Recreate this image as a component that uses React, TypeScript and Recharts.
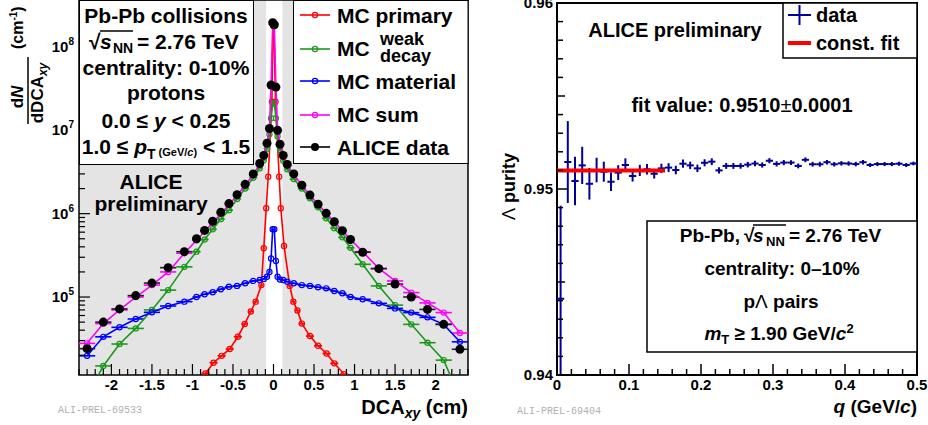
import React from "react";
import {
  ComposedChart,
  Scatter,
  XAxis,
  YAxis,
  ErrorBar,
  ReferenceArea,
  ReferenceLine,
} from "recharts";

const FONT = '"Liberation Sans", Arial, Helvetica, sans-serif';
const MONO = '"Liberation Mono", "DejaVu Sans Mono", monospace';

// ---------- left panel: proton DCA_xy templates ----------
const dcaBins = [
  -2.3, -2.1, -1.9, -1.7, -1.5, -1.3, -1.1, -0.95, -0.85, -0.75, -0.65, -0.55, -0.45, -0.35, -0.25, -0.17, -0.12,
  -0.08, -0.05, -0.03, -0.01, 0.01, 0.03, 0.05, 0.08, 0.12, 0.17, 0.25, 0.35, 0.45, 0.55, 0.65, 0.75, 0.85, 0.95,
  1.1, 1.3, 1.5, 1.7, 1.9, 2.1, 2.3,
];
const dcaHalfWidths = [
  0.1, 0.1, 0.1, 0.1, 0.1, 0.1, 0.1, 0.05, 0.05, 0.05, 0.05, 0.05, 0.05, 0.05, 0.05, 0.03, 0.02, 0.02, 0.015, 0.01,
  0.01, 0.01, 0.01, 0.015, 0.02, 0.02, 0.03, 0.05, 0.05, 0.05, 0.05, 0.05, 0.05, 0.05, 0.05, 0.1, 0.1, 0.1, 0.1,
  0.1, 0.1, 0.1,
];
const aliceData = [
  2.4e4, 5.0e4, 7.2e4, 1.04e5, 1.47e5, 2.25e5, 3.5e5, 5.0e5, 6.3e5, 8.1e5, 1.04e6, 1.32e6, 1.69e6, 2.25e6, 3.0e6,
  4.0e6, 5.0e6, 7.0e6, 1.05e7, 3.5e7, 1.95e8, 1.85e8, 3.3e7, 1.0e7, 6.8e6, 5.0e6, 3.9e6, 3.0e6, 2.2e6, 1.67e6,
  1.3e6, 1.01e6, 8.0e5, 6.25e5, 4.9e5, 3.44e5, 2.19e5, 1.43e5, 1.0e5, 7.1e4, 4.7e4, 2.36e4,
];
const mcSum = [
  2.78e4, 4.8e4, 7.0e4, 1.0e5, 1.39e5, 2.0e5, 3.35e5, 4.8e5, 6.1e5, 7.8e5, 1.0e6, 1.28e6, 1.65e6, 2.2e6, 2.95e6,
  3.9e6, 5.0e6, 7.0e6, 1.05e7, 3.5e7, 1.9e8, 1.85e8, 3.3e7, 1.0e7, 6.8e6, 4.9e6, 3.85e6, 2.95e6, 2.2e6, 1.66e6,
  1.3e6, 1.01e6, 8.0e5, 6.3e5, 4.9e5, 3.5e5, 2.2e5, 1.56e5, 1.13e5, 8.5e4, 6.5e4, 3.7e4,
];
const mcWeakDecay = [
  6.5e3, 1.49e4, 2.73e4, 4.2e4, 7.0e4, 1.21e5, 2.3e5, 3.5e5, 4.9e5, 6.5e5, 8.6e5, 1.1e6, 1.5e6, 2.0e6, 2.7e6,
  3.5e6, 4.4e6, 6.0e6, 9.0e6, 1.4e7, 2.1e7, 2.1e7, 1.4e7, 8.5e6, 5.8e6, 4.3e6, 3.4e6, 2.6e6, 2.0e6, 1.53e6,
  1.19e6, 8.8e5, 6.7e5, 5.2e5, 3.9e5, 2.47e5, 1.36e5, 8.0e4, 4.7e4, 2.83e4, 1.75e4, 6.2e3,
];
const mcMaterial = [
  1.97e4, 3.33e4, 4.33e4, 5.45e4, 6.55e4, 7.8e4, 8.8e4, 1.0e5, 1.08e5, 1.14e5, 1.24e5, 1.33e5, 1.36e5, 1.46e5,
  1.56e5, 1.6e5, 1.65e5, 1.75e5, 2.0e5, 2.9e5, 6.5e5, 6.5e5, 2.7e5, 1.75e5, 1.62e5, 1.6e5, 1.53e5, 1.46e5, 1.39e5,
  1.36e5, 1.31e5, 1.27e5, 1.18e5, 1.11e5, 1.0e5, 9.4e4, 8.4e4, 7.3e4, 6.5e4, 5.7e4, 4.7e4, 2.9e4,
];
const primaryBins = [
  -0.95, -0.84, -0.74, -0.64, -0.54, -0.44, -0.355, -0.28, -0.22, -0.15, -0.12, -0.09, -0.065, -0.02, -0.005,
  0.005, 0.025, 0.07, 0.09, 0.13, 0.2, 0.245, 0.295, 0.35, 0.45, 0.55, 0.655, 0.75, 0.87, 0.95,
];
const primaryHalfWidths = [
  0.05, 0.05, 0.05, 0.05, 0.05, 0.05, 0.04, 0.03, 0.025, 0.02, 0.015, 0.01, 0.01, 0.01, 0.005, 0.005, 0.01, 0.01,
  0.01, 0.015, 0.025, 0.025, 0.03, 0.04, 0.05, 0.05, 0.05, 0.05, 0.05, 0.05,
];
const mcPrimary = [
  8e3, 1.21e4, 1.63e4, 1.97e4, 2.38e4, 3.34e4, 4.75e4, 6.7e4, 8.8e4, 1.39e5, 3.85e5, 1.16e6, 2.78e6, 2.2e7, 1.8e8,
  1.8e8, 2.2e7, 2.78e6, 1.16e6, 4.1e5, 1.36e5, 8.8e4, 6.9e4, 4.8e4, 3.4e4, 2.6e4, 2.1e4, 1.6e4, 1.19e4, 8e3,
];
const dcaRange = [-2.4, 2.4];
const countRange = [1.16e4, 3.66e8];
const dcaLabels = [-2, -1.5, -1, -0.5, 0, 0.5, 1, 1.5, 2];
const excludedBand = [-0.09, 0.11];

// ---------- right panel: Lambda purity vs q ----------
const qBins = [
  0.005, 0.015, 0.025, 0.035, 0.045, 0.055, 0.065, 0.075, 0.085, 0.095, 0.105, 0.115, 0.125, 0.135, 0.145, 0.155,
  0.165, 0.175, 0.185, 0.195, 0.205, 0.215, 0.225, 0.235, 0.245, 0.255, 0.265, 0.275, 0.285, 0.295, 0.305, 0.315,
  0.325, 0.335, 0.345, 0.355, 0.365, 0.375, 0.385, 0.395, 0.405, 0.415, 0.425, 0.435, 0.445, 0.455, 0.465, 0.475,
  0.485, 0.495,
];
const qHalfWidth = 0.005;
const lambdaPurity = [
  0.9441, 0.95145, 0.95043, 0.95127, 0.95028, 0.95102, 0.95093, 0.95039, 0.95088, 0.95129, 0.9507, 0.951, 0.95106,
  0.95082, 0.95111, 0.95115, 0.95102, 0.95136, 0.95127, 0.95111, 0.95141, 0.95147, 0.951, 0.95124, 0.95124,
  0.95124, 0.95131, 0.95137, 0.95129, 0.95152, 0.95135, 0.95142, 0.95142, 0.95124, 0.95157, 0.95133, 0.95133,
  0.95144, 0.95133, 0.95138, 0.95137, 0.95134, 0.95144, 0.95129, 0.95134, 0.95134, 0.95134, 0.95136, 0.95129,
  0.95137,
];
const lambdaPurityErr = [
  0.005, 0.0022, 0.0013, 0.001, 0.00085, 0.00066, 0.00054, 0.0005, 0.0004, 0.00036, 0.0003, 0.0003, 0.00028,
  0.00026, 0.00025, 0.00024, 0.00023, 0.00022, 0.0002, 0.0002, 0.00019, 0.00018, 0.00017, 0.00016, 0.00016,
  0.00015, 0.00015, 0.00015, 0.00014, 0.00014, 0.00014, 0.00014, 0.00013, 0.00013, 0.00013, 0.00013, 0.00013,
  0.00012, 0.00012, 0.00012, 0.00012, 0.00012, 0.00012, 0.00011, 0.00011, 0.00011, 0.00011, 0.00011, 0.00011,
  0.0001,
];
const fitValue = 0.951;
const fitRange = [0, 0.15];
const qRange = [0, 0.5];
const purityRange = [0.94, 0.96];
const qLabels = [0, 0.1, 0.2, 0.3, 0.4, 0.5];
const purityLabels = [0.94, 0.95, 0.96];

// ---------- derived rows / ticks ----------
const rows = (xs: number[], ys: number[], exs: number[]) => xs.map((x, i) => ({ x, y: ys[i], ex: exs[i] }));
const dataRows = rows(dcaBins, aliceData, dcaHalfWidths);
const sumRows = rows(dcaBins, mcSum, dcaHalfWidths);
const weakRows = rows(dcaBins, mcWeakDecay, dcaHalfWidths);
const materialRows = rows(dcaBins, mcMaterial, dcaHalfWidths);
const primaryRows = rows(primaryBins, mcPrimary, primaryHalfWidths);
const purityRows = qBins.map((x, i) => ({ x, y: lambdaPurity[i], ex: qHalfWidth, ey: lambdaPurityErr[i] }));

const dcaTicks: number[] = [];
for (let i = -24; i <= 24; i++) dcaTicks.push(i / 10);
const logTicks: number[] = [];
for (let e = 4; e <= 8; e++)
  for (let m = 1; m <= 9; m++) {
    const v = m * Math.pow(10, e);
    if (v >= countRange[0] && v <= countRange[1]) logTicks.push(v);
  }
const qTicks: number[] = [];
for (let i = 0; i <= 25; i++) qTicks.push(i / 50);
const purityTicks: number[] = [];
for (let i = 0; i <= 20; i++) purityTicks.push(Number((0.94 + i / 1000).toFixed(3)));

const near = (list: number[], v: number) => list.some((l) => Math.abs(l - v) < 1e-7);

const RED = "#ff0000";
const GREEN = "#1c981c";
const BLUE = "#0000ff";
const MAGENTA = "#ff00ff";
const NAVY = "#000099";
const GRAY = "#e4e4e4";

const DcaTick = (props: any) => {
  const { x, y, payload } = props;
  const v = payload.value;
  const major = near(dcaLabels, v);
  return (
    <g>
      <line x1={x} y1={y} x2={x} y2={y - (major ? 11 : 6)} stroke="#000" strokeWidth={1.2} />
      {major && (
        <text x={x} y={y + 15} textAnchor="middle" fontFamily={FONT} fontWeight={700} fontSize={15} fill="#000">
          {String(v)}
        </text>
      )}
    </g>
  );
};

const LogTick = (props: any) => {
  const { x, y, payload } = props;
  const v = payload.value;
  const exp = Math.round(Math.log10(v));
  const major = Math.abs(v - Math.pow(10, exp)) < 1e-6 * v;
  return (
    <g>
      <line x1={x} y1={y} x2={x + (major ? 11 : 6)} y2={y} stroke="#000" strokeWidth={1.2} />
      {major && (
        <text x={x - 5} y={y + 5} textAnchor="end" fontFamily={FONT} fontWeight={700} fontSize={15} fill="#000">
          10
          <tspan fontSize={10} dy={-7}>
            {exp}
          </tspan>
        </text>
      )}
    </g>
  );
};

const QTick = (props: any) => {
  const { x, y, payload } = props;
  const v = payload.value;
  const major = near(qLabels, v);
  return (
    <g>
      <line x1={x} y1={y} x2={x} y2={y - (major ? 11 : 6)} stroke="#000" strokeWidth={1.5} />
      {major && (
        <text x={x} y={y + 15} textAnchor="middle" fontFamily={FONT} fontWeight={700} fontSize={15} fill="#000">
          {String(Math.round(v * 10) / 10)}
        </text>
      )}
    </g>
  );
};

const PurityTick = (props: any) => {
  const { x, y, payload, index } = props;
  const v = payload.value;
  const major = near(purityLabels, v);
  const len = major ? 11 : index % 5 === 0 ? 8 : 6;
  return (
    <g>
      <line x1={x} y1={y} x2={x + len} y2={y} stroke="#000" strokeWidth={1.5} />
      {major && (
        <text x={x - 4} y={y + 5} textAnchor="end" fontFamily={FONT} fontWeight={700} fontSize={15} fill="#000">
          {v.toFixed(2)}
        </text>
      )}
    </g>
  );
};

const openCircle = (color: string) => (p: any) =>
  <circle cx={p.cx} cy={p.cy} r={2.6} fill="none" stroke={color} strokeWidth={1.2} />;
const fullCircle = (p: any) => <circle cx={p.cx} cy={p.cy} r={4.5} fill="#000" />;
const noMarker = () => <g />;

// layer "plot" draws everything but is clipped to the frame; layer "axes" only supplies the tick labels below it
const DcaPanel = ({ layer }: { layer: "plot" | "axes" }) => (
  <ComposedChart width={480} height={425} margin={{ top: 0, right: 12, bottom: 0, left: 0 }}>
    <XAxis
      type="number"
      dataKey="x"
      domain={dcaRange}
      allowDataOverflow
      ticks={dcaTicks}
      interval={0}
      tick={<DcaTick />}
      tickLine={false}
      tickSize={0}
      tickMargin={0}
      axisLine={false}
      height={50}
    />
    <YAxis
      type="number"
      dataKey="y"
      scale="log"
      domain={countRange}
      allowDataOverflow
      ticks={logTicks}
      interval={0}
      tick={<LogTick />}
      tickLine={false}
      tickSize={0}
      tickMargin={0}
      axisLine={false}
      width={79}
    />
    {layer === "plot" && (
      <ReferenceArea x1={dcaRange[0]} x2={excludedBand[0]} y1={countRange[0]} y2={countRange[1]} fill={GRAY} fillOpacity={1} stroke="none" />
    )}
    {layer === "plot" && (
      <ReferenceArea x1={excludedBand[1]} x2={dcaRange[1]} y1={countRange[0]} y2={countRange[1]} fill={GRAY} fillOpacity={1} stroke="none" />
    )}
    {layer === "plot" && (
      <Scatter data={primaryRows} line={{ stroke: RED, strokeWidth: 1.6 }} shape={openCircle(RED)} isAnimationActive={false}>
        <ErrorBar dataKey="ex" direction="x" width={0} stroke={RED} strokeWidth={1.6} />
      </Scatter>
    )}
    {layer === "plot" && (
      <Scatter data={weakRows} line={{ stroke: GREEN, strokeWidth: 1.6 }} shape={openCircle(GREEN)} isAnimationActive={false}>
        <ErrorBar dataKey="ex" direction="x" width={0} stroke={GREEN} strokeWidth={1.6} />
      </Scatter>
    )}
    {layer === "plot" && (
      <Scatter data={materialRows} line={{ stroke: BLUE, strokeWidth: 1.6 }} shape={openCircle(BLUE)} isAnimationActive={false}>
        <ErrorBar dataKey="ex" direction="x" width={0} stroke={BLUE} strokeWidth={1.6} />
      </Scatter>
    )}
    {layer === "plot" && (
      <Scatter data={sumRows} line={{ stroke: MAGENTA, strokeWidth: 1.6 }} shape={openCircle(MAGENTA)} isAnimationActive={false}>
        <ErrorBar dataKey="ex" direction="x" width={0} stroke={MAGENTA} strokeWidth={1.6} />
      </Scatter>
    )}
    <Scatter data={dataRows} shape={layer === "plot" ? fullCircle : noMarker} isAnimationActive={false}>
      {layer === "plot" && <ErrorBar dataKey="ex" direction="x" width={0} stroke="#222" strokeWidth={1.6} />}
    </Scatter>
    <ReferenceArea x1={dcaRange[0]} x2={dcaRange[1]} y1={countRange[0]} y2={countRange[1]} fill="none" stroke="#000" strokeWidth={1.5} />
  </ComposedChart>
);

const PurityPanel = ({ layer }: { layer: "plot" | "axes" }) => (
  <ComposedChart width={438} height={425} margin={{ top: 3, right: 11, bottom: 0, left: 0 }}>
    <XAxis
      type="number"
      dataKey="x"
      domain={qRange}
      allowDataOverflow
      ticks={qTicks}
      interval={0}
      tick={<QTick />}
      tickLine={false}
      tickSize={0}
      tickMargin={0}
      axisLine={false}
      height={50}
    />
    <YAxis
      type="number"
      dataKey="y"
      domain={purityRange}
      allowDataOverflow
      ticks={purityTicks}
      interval={0}
      tick={<PurityTick />}
      tickLine={false}
      tickSize={0}
      tickMargin={0}
      axisLine={false}
      width={67}
    />
    <Scatter data={purityRows} shape={noMarker} isAnimationActive={false}>
      {layer === "plot" && <ErrorBar dataKey="ex" direction="x" width={0} stroke={NAVY} strokeWidth={2} />}
      {layer === "plot" && <ErrorBar dataKey="ey" direction="y" width={0} stroke={NAVY} strokeWidth={2} />}
    </Scatter>
    {layer === "plot" && (
      <ReferenceLine
        segment={[
          { x: fitRange[0], y: fitValue },
          { x: fitRange[1], y: fitValue },
        ]}
        stroke={RED}
        strokeWidth={4}
      />
    )}
    <ReferenceArea x1={qRange[0]} x2={qRange[1]} y1={purityRange[0]} y2={purityRange[1]} fill="none" stroke="#000" strokeWidth={2} />
  </ComposedChart>
);

const Annotations = () => (
  <svg
    width={928}
    height={425}
    style={{ position: "absolute", left: 0, top: 0, pointerEvents: "none" }}
    fontFamily={FONT}
    fontWeight={700}
    fill="#000"
  >
    {/* left: y title */}
    <g transform="rotate(-90)">
      <text x={-97} y={23} textAnchor="middle" fontSize={17}>
        d<tspan fontStyle="italic">N</tspan>
      </text>
      <line x1={-124} x2={-57} y1={28} y2={28} stroke="#000" strokeWidth={1.5} />
      <text x={-93} y={43} textAnchor="middle" fontSize={17}>
        dDCA
        <tspan fontSize={12} fontStyle="italic" dy={4}>
          xy
        </tspan>
      </text>
      <text x={-49} y={23} fontSize={16}>
        (cm
        <tspan fontSize={10} dy={-6}>
          -1
        </tspan>
        <tspan dy={6}>)</tspan>
      </text>
    </g>

    {/* left: info box */}
    <rect x={79.5} y={0.5} width={174} height={164} fill="#fff" stroke="#000" />
    <g fontSize={21} textAnchor="middle">
      <text x={166} y={23}>Pb-Pb collisions</text>
      <text x={166} y={75}>centrality: 0-10%</text>
      <text x={166} y={100}>protons</text>
      <text x={166} y={128}>
        0.0 ≤ <tspan fontStyle="italic">y</tspan> &lt; 0.25
      </text>
      <text x={166} y={154}>
        1.0 ≤ <tspan fontStyle="italic">p</tspan>
        <tspan fontSize={14} dy={5}>
          T
        </tspan>
        <tspan fontSize={11} dy={-3}>
          {" (GeV/"}
        </tspan>
        <tspan fontSize={11} fontStyle="italic">
          c
        </tspan>
        <tspan fontSize={11}>)</tspan>
        <tspan dy={-2}>{" < 1.5"}</tspan>
      </text>
    </g>
    <text x={89} y={49} fontSize={21}>√</text>
    <text x={100} y={49} fontSize={21} fontStyle="italic">s</text>
    <text x={113} y={53} fontSize={14}>NN</text>
    <line x1={100} x2={133} y1={31} y2={31} stroke="#000" strokeWidth={1.5} />
    <text x={137} y={49} fontSize={21}>= 2.76 TeV</text>

    {/* left: legend */}
    <rect x={293.5} y={0.5} width={174.5} height={163} fill="#fff" stroke="#000" />
    <line x1={300} x2={330} y1={15} y2={15} stroke={RED} strokeWidth={1.6} />
    <circle cx={315} cy={15} r={2.6} fill="none" stroke={RED} strokeWidth={1.2} />
    <text x={337} y={23} fontSize={21}>MC primary</text>
    <line x1={300} x2={330} y1={49} y2={49} stroke={GREEN} strokeWidth={1.6} />
    <circle cx={315} cy={49} r={2.6} fill="none" stroke={GREEN} strokeWidth={1.2} />
    <text x={337} y={56} fontSize={21}>MC</text>
    <text x={380} y={45} fontSize={18}>weak</text>
    <text x={380} y={62} fontSize={18}>decay</text>
    <line x1={300} x2={330} y1={81} y2={81} stroke={BLUE} strokeWidth={1.6} />
    <circle cx={315} cy={81} r={2.6} fill="none" stroke={BLUE} strokeWidth={1.2} />
    <text x={337} y={89} fontSize={21}>MC material</text>
    <line x1={300} x2={330} y1={115} y2={115} stroke={MAGENTA} strokeWidth={1.6} />
    <circle cx={315} cy={115} r={2.6} fill="none" stroke={MAGENTA} strokeWidth={1.2} />
    <text x={337} y={122} fontSize={21}>MC sum</text>
    <line x1={300} x2={330} y1={147} y2={147} stroke="#000" strokeWidth={1.6} />
    <circle cx={315} cy={147} r={4} fill="#000" />
    <text x={337} y={155} fontSize={21}>ALICE data</text>

    {/* left: ALICE preliminary + x title */}
    <g fontSize={21} textAnchor="middle">
      <text x={151} y={189}>ALICE</text>
      <text x={151} y={211}>preliminary</text>
    </g>
    <text x={468} y={414} textAnchor="end" fontSize={20}>
      DCA
      <tspan fontSize={14} fontStyle="italic" dy={4}>
        xy
      </tspan>
      <tspan dy={-4}>{" (cm)"}</tspan>
    </text>
    <text x={58} y={413} fontFamily={MONO} fontWeight={400} fontSize={10} fill="#b0b0b0">
      ALI-PREL-69533
    </text>

    {/* right: y title */}
    <g transform="rotate(-90)">
      <text x={-153} y={515} textAnchor="end" fontSize={18}>
        <tspan fontWeight={400}>Λ</tspan> purity
      </text>
    </g>

    {/* right: legend */}
    <rect x={783} y={3} width={134} height={55} fill="#fff" stroke="#000" strokeWidth={1.5} />
    <line x1={788} x2={811} y1={15} y2={15} stroke={NAVY} strokeWidth={2} />
    <line x1={799.5} x2={799.5} y1={5} y2={25} stroke={NAVY} strokeWidth={2} />
    <text x={816} y={22} fontSize={20}>data</text>
    <line x1={788} x2={811} y1={43} y2={43} stroke={RED} strokeWidth={4} />
    <text x={816} y={50} fontSize={20}>const. fit</text>

    <g fontSize={20} textAnchor="middle">
      <text x={675} y={37}>ALICE preliminary</text>
      <text x={742} y={112}>
        fit value: 0.9510<tspan fontWeight={400}>±</tspan>0.0001
      </text>
    </g>

    {/* right: info box */}
    <rect x={647} y={221} width={270} height={131} fill="#fff" stroke="#000" strokeWidth={1.5} />
    <text x={740} y={242} textAnchor="end" fontSize={19}>Pb-Pb,</text>
    <text x={744} y={242} fontSize={19}>√</text>
    <text x={753} y={242} fontSize={19} fontStyle="italic">s</text>
    <text x={766} y={246} fontSize={13}>NN</text>
    <line x1={753} x2={786} y1={225} y2={225} stroke="#000" strokeWidth={1.5} />
    <text x={789} y={242} fontSize={19}>= 2.76 TeV</text>
    <g fontSize={19} textAnchor="middle">
      <text x={782} y={275}>centrality: 0–10%</text>
      <text x={781} y={308}>
        p<tspan fontWeight={400}>Λ</tspan> pairs
      </text>
      <text x={779} y={340}>
        <tspan fontStyle="italic">m</tspan>
        <tspan fontSize={13} dy={4}>
          T
        </tspan>
        <tspan dy={-4}>{" ≥ 1.90 GeV/"}</tspan>
        <tspan fontStyle="italic">c</tspan>
        <tspan fontSize={13} dy={-7}>
          2
        </tspan>
      </text>
    </g>

    {/* right: x title */}
    <text x={917} y={413} textAnchor="end" fontSize={19}>
      <tspan fontStyle="italic">q</tspan>
      {" (GeV/"}
      <tspan fontStyle="italic">c</tspan>)
    </text>
    <text x={517} y={414} fontFamily={MONO} fontWeight={400} fontSize={10} fill="#b0b0b0">
      ALI-PREL-69404
    </text>
  </svg>
);

const plotClip = { position: "absolute" as const, top: 0, clipPath: "inset(0 0 50px 0)" };
const axesClip = { position: "absolute" as const, top: 0, clipPath: "inset(375px 0 0 0)" };

export default function App() {
  return (
    <div style={{ position: "absolute", left: 0, top: 0, width: 928, height: 425, background: "#fff", overflow: "hidden" }}>
      <div style={{ ...plotClip, left: 0 }}>
        <DcaPanel layer="plot" />
      </div>
      <div style={{ ...axesClip, left: 0 }}>
        <DcaPanel layer="axes" />
      </div>
      <div style={{ ...plotClip, left: 490 }}>
        <PurityPanel layer="plot" />
      </div>
      <div style={{ ...axesClip, left: 490 }}>
        <PurityPanel layer="axes" />
      </div>
      <Annotations />
    </div>
  );
}
